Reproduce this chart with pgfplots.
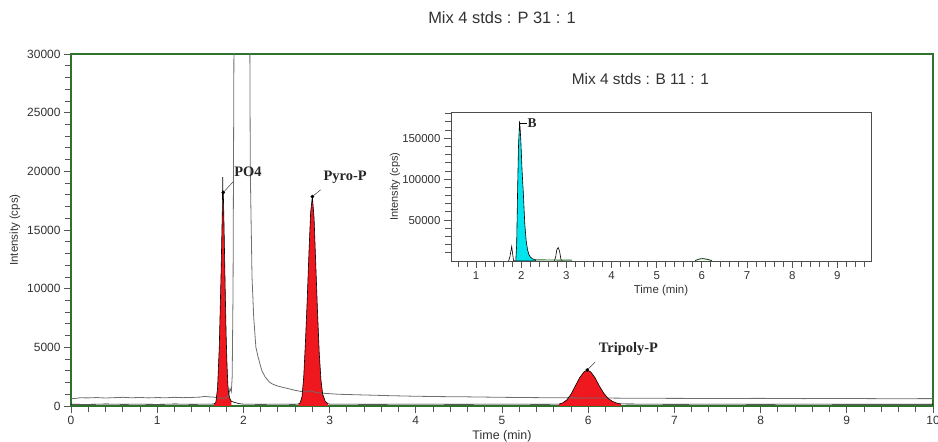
\documentclass[border=0pt]{standalone}
\usepackage{pgfplots}
\pgfplotsset{compat=1.18}
\usepackage{fontspec}
\setmainfont{Liberation Sans}
\newfontfamily\lblfont{Liberation Serif}
\definecolor{framegreen}{RGB}{45,115,45}
\definecolor{pkred}{RGB}{238,24,30}
\definecolor{pkcyan}{RGB}{0,228,238}
\definecolor{trgray}{RGB}{110,110,110}
\definecolor{tickgray}{RGB}{85,85,85}
\definecolor{txtgray}{RGB}{50,50,50}
\definecolor{basegreen}{RGB}{40,110,40}
\pgfplotsset{/pgf/number format/assume math mode=true}
\begin{document}
\begin{tikzpicture}
\useasboundingbox (-71bp,-36bp) rectangle (867bp,406bp);
% ---------------- main chromatogram ----------------
\begin{axis}[
  at={(0,0)}, anchor=south west,
  scale only axis, width=862bp, height=352bp,
  xmin=0, xmax=10, ymin=0, ymax=30000,
  axis line style={draw=framegreen, line width=2.4bp},
  xtick={0,1,...,10}, minor x tick num=4,
  ytick={0,5000,...,30000}, minor y tick num=4,
  tick align=outside, tick pos=left,
  major tick length=7bp, minor tick length=6bp,
  every tick/.style={draw=tickgray, line width=0.8bp},
  minor tick style={draw=tickgray, line width=0.8bp},
  scaled y ticks=false,
  yticklabel style={/pgf/number format/.cd, fixed, 1000 sep={}},
  tick label style={font=\fontsize{12}{14}\selectfont, text=txtgray},
  title={Mix 4 stds : P 31 : 1},
  title style={at={(rel axis cs:0.5,1)}, anchor=center, yshift=30bp, font=\fontsize{16.5}{18}\selectfont, text=txtgray},
  xlabel={Time (min)},
  xlabel style={at={(rel axis cs:0.5,0)}, anchor=center, yshift=-30bp, font=\fontsize{12.5}{14}\selectfont, text=txtgray},
  ylabel={Intensity (cps)},
  ylabel style={at={(rel axis cs:0,0.5)}, anchor=center, yshift=56bp, font=\fontsize{11.5}{13}\selectfont, text=txtgray},
  clip=true,
]
% red integrated peaks
\addplot[fill=pkred, draw=none] coordinates {
 (1.66,170)(1.68,300)(1.70,1500)(1.72,5000)(1.74,11000)(1.755,16500)(1.760,18000)(1.767,18200)
 (1.775,15500)(1.79,9500)(1.80,6000)(1.81,3500)(1.82,1800)(1.83,1000)(1.845,600)(1.86,400)} \closedcycle;
\addplot[fill=pkred, draw=none] coordinates {
 (2.64,170)(2.66,300)(2.68,800)(2.70,2500)(2.72,5500)(2.74,9000)(2.76,13000)(2.78,16500)(2.80,17850)
 (2.82,16000)(2.84,12000)(2.86,8000)(2.88,4500)(2.90,2200)(2.92,1000)(2.95,400)(2.98,200)} \closedcycle;
\addplot[fill=pkred, draw=none] coordinates {
 (5.66,160)(5.70,250)(5.75,500)(5.80,1000)(5.85,1700)(5.90,2400)(5.95,2900)(5.99,3070)(6.03,2900)
 (6.08,2400)(6.13,1700)(6.18,1100)(6.23,650)(6.28,400)(6.33,250)(6.38,180)} \closedcycle;
% gray trace
\addplot[trgray, line width=0.8bp] coordinates {
 (0,620)(0.05,640)(0.1,700)(0.2,690)(0.3,720)(0.4,680)(0.5,710)(0.6,740)(0.7,700)(0.8,730)(0.9,690)
 (1.0,720)(1.1,700)(1.2,740)(1.3,710)(1.4,730)(1.5,760)(1.55,820)(1.6,780)(1.65,760)(1.7,700)(1.75,660)
 (1.8,680)(1.83,900)(1.845,1500)(1.86,1200)(1.87,2500)(1.88,10000)(1.89,30000)(1.92,60000)(1.98,70000)
 (2.05,55000)(2.075,30000)(2.08,20000)(2.10,11000)(2.12,7500)(2.145,5000)(2.17,4200)(2.195,3500)
 (2.215,3000)(2.25,2500)(2.3,2050)(2.33,1900)(2.36,1800)(2.4,1700)(2.45,1600)(2.51,1500)(2.59,1350)
 (2.66,1250)(2.73,1200)(2.77,1300)(2.8,1250)(2.84,1150)(2.9,1100)(3.0,1050)(3.1,1000)(3.2,980)(3.3,960)
 (3.5,920)(3.7,880)(4.0,830)(4.3,800)(4.6,780)(5.0,740)(5.3,720)(5.6,700)(5.9,690)(6.2,680)(6.5,660)
 (7.0,650)(7.5,640)(8.0,650)(8.5,630)(9.0,640)(9.5,620)(10,630)};
% black trace
\addplot[black, line width=0.6bp] coordinates {
 (0,150)(0.2,140)(0.4,170)(0.6,150)(0.8,160)(1.0,140)(1.2,170)(1.4,150)(1.6,160)(1.66,170)(1.68,300)
 (1.70,1500)(1.72,5000)(1.74,11000)(1.755,16500)(1.760,19500)(1.763,17600)(1.767,18200)(1.775,15500)
 (1.79,9500)(1.80,6000)(1.81,3500)(1.82,1800)(1.83,1000)(1.845,600)(1.86,400)(1.90,300)(1.95,200)
 (2.0,160)(2.2,150)(2.4,160)(2.6,150)(2.64,170)(2.66,300)(2.68,800)(2.70,2500)(2.72,5500)(2.74,9000)
 (2.76,13000)(2.78,16500)(2.80,17850)(2.82,16000)(2.84,12000)(2.86,8000)(2.88,4500)(2.90,2200)
 (2.92,1000)(2.95,400)(2.98,200)(3.0,160)(3.5,150)(4,160)(4.5,150)(5,160)(5.5,150)(5.66,160)(5.70,250)
 (5.75,500)(5.80,1000)(5.85,1700)(5.90,2400)(5.95,2900)(5.99,3070)(6.03,2900)(6.08,2400)(6.13,1700)
 (6.18,1100)(6.23,650)(6.28,400)(6.33,250)(6.38,180)(6.6,160)(7,150)(7.5,160)(8,150)(8.5,160)(9,150)
 (9.5,150)(10,150)};
% apex markers
\addplot[only marks, mark=*, mark size=1.6bp, black] coordinates {(1.767,18200)(2.80,17850)(5.99,3070)};
% annotations
\draw[black!75, line width=0.5bp] (axis cs:1.767,18200) -- (axis cs:1.883,19130);
\draw[black!75, line width=0.5bp] (axis cs:2.80,17850) -- (axis cs:2.897,18430);
\draw[black!75, line width=0.5bp] (axis cs:5.99,3070) -- (axis cs:6.08,3730);
\node[font=\lblfont\bfseries\fontsize{14.5}{16}\selectfont, text=black!85] at (axis cs:2.053,19920) {PO4};
\node[font=\lblfont\bfseries\fontsize{14.5}{16}\selectfont, text=black!85] at (axis cs:3.18,19490) {Pyro-P};
\node[font=\lblfont\bfseries\fontsize{14.5}{16}\selectfont, text=black!85] at (axis cs:6.467,4820) {Tripoly-P};
\end{axis}
% ---------------- inset (B 11) ----------------
\begin{axis}[
  at={(380bp,145bp)}, anchor=south west,
  scale only axis, width=420bp, height=149bp,
  xmin=0.446, xmax=9.745, ymin=0, ymax=182000,
  axis background/.style={fill=white},
  axis line style={draw=black!70, line width=0.8bp},
  xtick={1,...,9}, minor xtick={0.6,0.8,1.2,1.4,1.6,1.8,2.2,2.4,2.6,2.8,3.2,3.4,3.6,3.8,4.2,4.4,4.6,4.8,5.2,5.4,5.6,5.8,6.2,6.4,6.6,6.8,7.2,7.4,7.6,7.8,8.2,8.4,8.6,8.8,9.2,9.4,9.6},
  ytick={50000,100000,150000}, minor ytick={10000,20000,30000,40000,60000,70000,80000,90000,110000,120000,130000,140000,160000,170000,180000},
  tick align=outside, tick pos=left,
  major tick length=7bp, minor tick length=6bp,
  every tick/.style={draw=tickgray, line width=0.8bp},
  minor tick style={draw=tickgray, line width=0.8bp},
  scaled y ticks=false,
  yticklabel style={/pgf/number format/.cd, fixed, 1000 sep={}},
  tick label style={font=\fontsize{11.5}{13}\selectfont, text=txtgray},
  title={Mix 4 stds : B 11 : 1},
  title style={at={(rel axis cs:0.451,1)}, anchor=center, yshift=27bp, font=\fontsize{15.5}{17}\selectfont, text=txtgray},
  xlabel={Time (min)},
  xlabel style={at={(rel axis cs:0.5,0)}, anchor=center, yshift=-30bp, font=\fontsize{11.5}{13}\selectfont, text=txtgray},
  ylabel={Intensity (cps)},
  ylabel style={at={(rel axis cs:0,0.5)}, anchor=center, yshift=56bp, font=\fontsize{11}{13}\selectfont, text=txtgray},
  clip=true,
]
\addplot[fill=pkcyan, draw=black, line width=0.6bp] coordinates {
 (1.88,0)(1.90,20000)(1.92,85000)(1.94,140000)(1.965,171000)(1.99,150000)(2.02,110000)(2.05,80000)
 (2.08,45000)(2.11,25000)(2.14,14000)(2.17,8000)(2.20,5000)(2.24,3000)(2.28,2000)(2.32,1500)} \closedcycle;
\addplot[black, line width=0.6bp] coordinates {
 (1.72,0)(1.75,5000)(1.79,17700)(1.81,9000)(1.83,800)(1.86,0)};
\addplot[black, line width=0.6bp] coordinates {
 (2.73,0)(2.76,4000)(2.79,14000)(2.82,16500)(2.85,12000)(2.88,2000)(2.91,0)};
\addplot[basegreen, line width=0.9bp] coordinates {
 (2.28,1400)(2.5,1300)(2.7,1200)(2.9,1100)(3.12,1000)};
\addplot[basegreen!70!black, line width=0.9bp] coordinates {
 (5.85,500)(5.95,2500)(6.02,2900)(6.12,2000)(6.22,500)};
\draw[black, line width=0.6bp] (axis cs:1.965,168700) -- (axis cs:2.12,168700);
\node[font=\lblfont\bfseries\fontsize{13.5}{15}\selectfont, text=black!85] at (axis cs:2.24,168700) {B};
\end{axis}
\end{tikzpicture}
\end{document}
